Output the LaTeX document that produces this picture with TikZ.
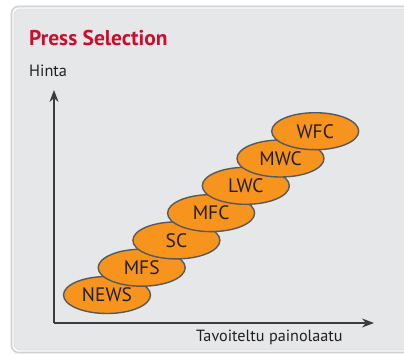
\documentclass[tikz,border=0pt]{standalone}
\usepackage{fontspec}
\setmainfont{PT Sans}
\usetikzlibrary{shapes.geometric,arrows.meta}
\definecolor{panelfill}{HTML}{E6E7E8}
\definecolor{panelline}{HTML}{CFD0D2}
\definecolor{titlered}{HTML}{C8102E}
\definecolor{inkdark}{HTML}{231F20}
\definecolor{ovalfill}{HTML}{F7941D}
\definecolor{ovalline}{HTML}{58595B}
\definecolor{axisline}{HTML}{3C3C3E}
\tikzset{
  oval/.style={ellipse, draw=ovalline, line width=1.4pt, fill=ovalfill,
    minimum width=87pt, minimum height=37pt, inner sep=0pt,
    font=\fontsize{19.5}{19.5}\selectfont, text=inkdark},
  axisarrow/.style={draw=axisline, line width=1.1pt, -{Stealth[length=12pt,width=9pt]}},
  lbl/.style={inner sep=0pt, text=inkdark, anchor=base west}
}
\begin{document}
\begin{tikzpicture}[x=1pt,y=-1pt]
\useasboundingbox (0,0) rectangle (404,354);
\fill[white] (0,0) rectangle (404,354);
% panel
\draw[panelline, line width=1.6pt, fill=white, rounded corners=7pt] (11.5,6.5) rectangle (430,352.5);
\draw[panelline!70, line width=0.8pt, fill=panelfill, rounded corners=6pt] (14,9) rectangle (430,350);
% texts
\node[lbl, text=titlered, font=\fontsize{21.4}{21.4}\selectfont\bfseries] (title) at (29,45.5) {Press Selection};
\node[lbl, font=\fontsize{16.3}{16.3}\selectfont] (ylabel) at (29,76) {Hinta};
\node[lbl, font=\fontsize{16.2}{16.2}\selectfont] (xlabel) at (196,341.5) {Tavoiteltu painolaatu};
% axes
\coordinate (O) at (54,323);
\coordinate (ytip) at (54,90);
\coordinate (xtip) at (374,323);
\draw[axisarrow] (O) -- (ytip);
\draw[axisarrow] (O) -- (xtip);
% ovals (bottom first, upper ones drawn on top)
\node[oval] (news) at (107,295) {NEWS};
\node[oval] (mfs) at (141.7,267.7) {MFS};
\node[oval] (sc) at (176.4,240.4) {SC};
\node[oval] (mfc) at (211.1,213.1) {MFC};
\node[oval] (lwc) at (245.8,185.8) {LWC};
\node[oval] (mwc) at (280.5,158.5) {MWC};
\node[oval] (wfc) at (315.2,131.2) {WFC};
\end{tikzpicture}
\end{document}
